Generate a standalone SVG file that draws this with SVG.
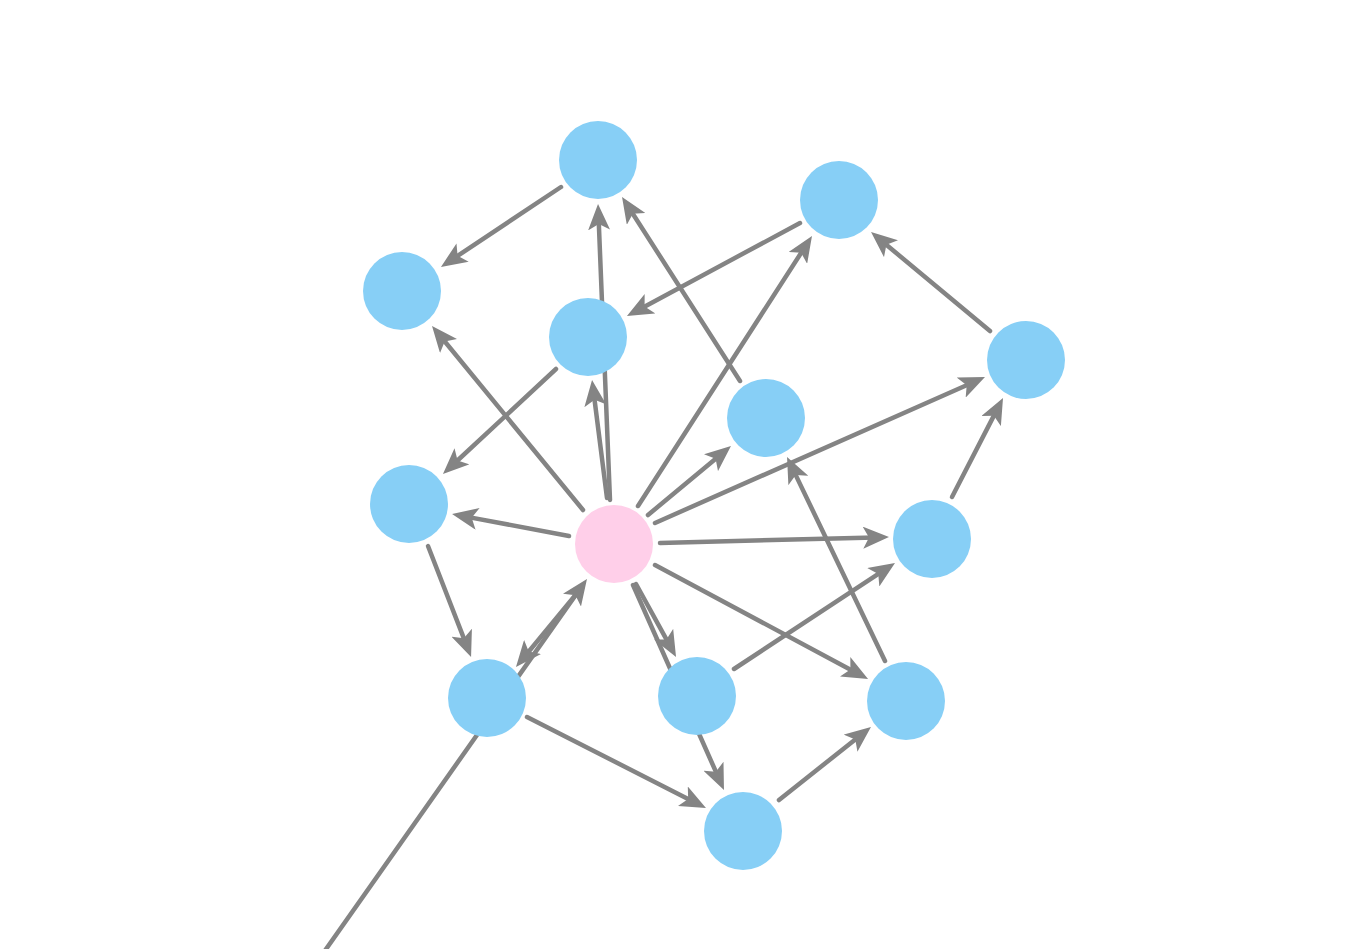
<svg xmlns="http://www.w3.org/2000/svg" width="1353" height="949" viewBox="0 0 1353 949">
<style>
.e{stroke:#848484;stroke-width:4.5;stroke-linecap:round;fill:none;marker-end:url(#arr)}
.n{fill:#87CFF6}
.c{fill:#FFCFE9}
</style>
<defs>
<marker id="arr" viewBox="0 -11 26 22" markerWidth="26" markerHeight="22" refX="12" refY="0" orient="auto" markerUnits="userSpaceOnUse">
<path d="M0,-11 L26,0 L0,11 L6,0 Z" fill="#848484"/>
</marker>
</defs>
<rect width="1353" height="949" fill="#ffffff"/>
<g id="connectors">
<line class="e" x1="561" y1="187" x2="452.6" y2="259.2"/>
<line class="e" x1="800" y1="223" x2="639.3" y2="309.4"/>
<line class="e" x1="990" y1="331" x2="881.8" y2="241"/>
<line class="e" x1="610" y1="500" x2="598.6" y2="218"/>
<line class="e" x1="607" y1="498" x2="593.8" y2="393.9"/>
<line class="e" x1="740" y1="381" x2="629.6" y2="208.8"/>
<line class="e" x1="638" y1="506" x2="804.4" y2="247.8"/>
<line class="e" x1="583" y1="510" x2="440.9" y2="336.8"/>
<line class="e" x1="556" y1="369" x2="453.2" y2="464.5"/>
<line class="e" x1="648" y1="515" x2="720.2" y2="455"/>
<line class="e" x1="655" y1="523" x2="972.2" y2="382.7"/>
<line class="e" x1="569" y1="536" x2="465.8" y2="516.6"/>
<line class="e" x1="660" y1="543" x2="875" y2="537.4"/>
<line class="e" x1="952" y1="497" x2="996.6" y2="410.4"/>
<line class="e" x1="428" y1="546" x2="466" y2="643.9"/>
<line class="e" x1="578" y1="592" x2="524.9" y2="656.2"/>
<line class="e" x1="324" y1="952" x2="578.9" y2="590.4"/>
<line class="e" x1="636" y1="584" x2="669.3" y2="644.7"/>
<line class="e" x1="633" y1="585" x2="718.3" y2="777.2"/>
<line class="e" x1="734" y1="669" x2="883.3" y2="570.7"/>
<line class="e" x1="655" y1="565" x2="855.7" y2="672.4"/>
<line class="e" x1="885" y1="661" x2="793.1" y2="469.6"/>
<line class="e" x1="527" y1="717" x2="693.5" y2="801.7"/>
<line class="e" x1="779" y1="800" x2="860" y2="735.7"/>
</g>
<g id="nA"><circle class="n" cx="598" cy="160" r="39"/></g>
<g id="nB"><circle class="n" cx="839" cy="200" r="39"/></g>
<g id="nC"><circle class="n" cx="402" cy="291" r="39"/></g>
<g id="nD"><circle class="n" cx="588" cy="337" r="39"/></g>
<g id="nE"><circle class="n" cx="1026" cy="360" r="39"/></g>
<g id="nF"><circle class="n" cx="766" cy="418" r="39"/></g>
<g id="nG"><circle class="n" cx="409" cy="504" r="39"/></g>
<g id="nP"><circle class="c" cx="614" cy="544" r="39"/></g>
<g id="nH"><circle class="n" cx="932" cy="539" r="39"/></g>
<g id="nI"><circle class="n" cx="487" cy="698" r="39"/></g>
<g id="nJ"><circle class="n" cx="697" cy="696" r="39"/></g>
<g id="nK"><circle class="n" cx="906" cy="701" r="39"/></g>
<g id="nL"><circle class="n" cx="743" cy="831" r="39"/></g>
</svg>
